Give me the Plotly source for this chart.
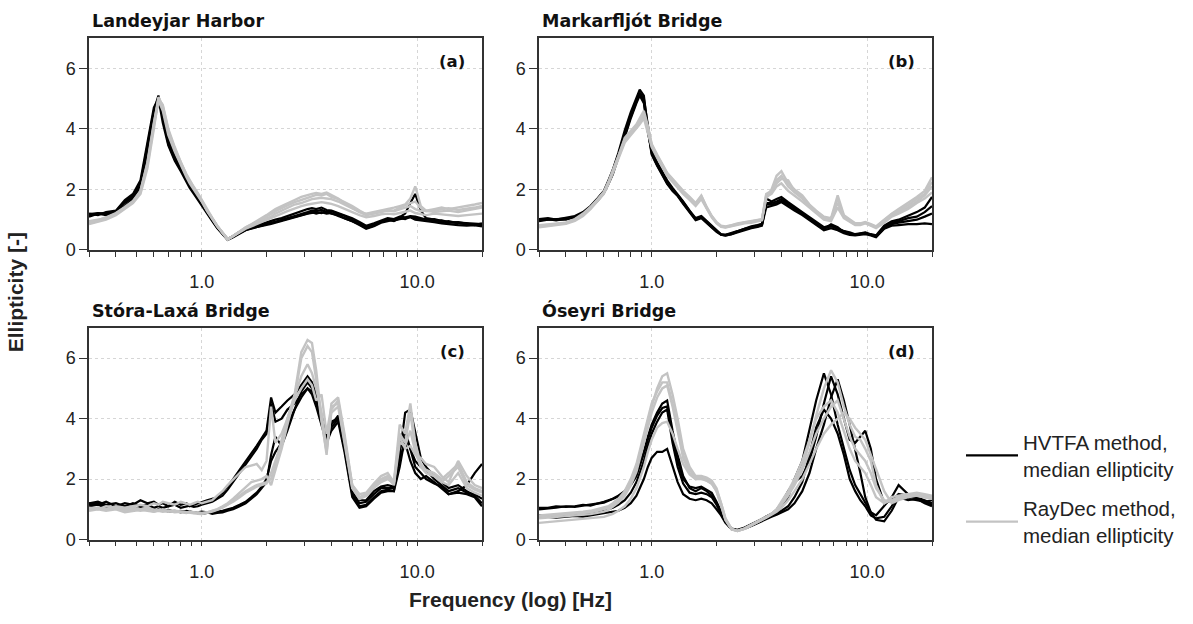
import plotly.graph_objects as go
import math

# Frequency grid [Hz]
freq = [0.30, 0.33, 0.36, 0.40, 0.44, 0.48, 0.52, 0.56, 0.60, 0.63,
        0.66, 0.70, 0.75, 0.80, 0.85, 0.88, 0.92, 0.96, 1.00, 1.06,
        1.12, 1.18, 1.25, 1.32, 1.40, 1.50, 1.60, 1.70, 1.80, 1.90,
        2.00, 2.10, 2.20, 2.35, 2.50, 2.70, 2.90, 3.10, 3.25, 3.40,
        3.60, 3.80, 4.00, 4.30, 4.60, 5.00, 5.40, 5.80, 6.30, 6.80,
        7.30, 7.80, 8.30, 8.80, 9.30, 9.80, 10.4, 11.0, 12.0, 13.0,
        14.0, 15.5, 17.0, 18.5, 20.0]

# (a) Landeyjar Harbor
a_hvtfa = [
    [1.15, 1.20, 1.20, 1.25, 1.55, 1.75, 2.10, 3.20, 4.40, 5.05,
     4.40, 3.60, 3.05, 2.70, 2.35, 2.15, 1.95, 1.75, 1.55, 1.25,
     1.00, 0.75, 0.55, 0.35, 0.45, 0.58, 0.68, 0.73, 0.78, 0.82,
     0.86, 0.90, 0.93, 0.98, 1.05, 1.12, 1.20, 1.25, 1.30, 1.28,
     1.32, 1.25, 1.28, 1.20, 1.12, 1.00, 0.88, 0.75, 0.85, 0.95,
     1.00, 0.95, 1.05, 1.02, 1.10, 1.05, 1.00, 1.02, 0.95, 0.98,
     0.92, 0.90, 0.88, 0.85, 0.85],
    [1.20, 1.15, 1.25, 1.30, 1.65, 1.85, 2.30, 3.50, 4.70, 5.00,
     4.20, 3.45, 2.95, 2.60, 2.25, 2.05, 1.85, 1.65, 1.45, 1.18,
     0.95, 0.72, 0.52, 0.33, 0.42, 0.55, 0.65, 0.72, 0.75, 0.80,
     0.83, 0.86, 0.90, 0.95, 1.00, 1.08, 1.15, 1.20, 1.22, 1.25,
     1.22, 1.28, 1.20, 1.15, 1.05, 0.95, 0.82, 0.70, 0.78, 0.90,
     0.95, 1.00, 1.08, 1.20, 1.55, 1.85, 1.30, 1.05, 1.00, 0.92,
     0.95, 0.88, 0.85, 0.82, 0.80],
    [1.10, 1.20, 1.15, 1.22, 1.45, 1.70, 2.00, 3.00, 4.20, 4.90,
     4.50, 3.70, 3.10, 2.75, 2.40, 2.20, 2.00, 1.78, 1.58, 1.28,
     1.02, 0.78, 0.56, 0.36, 0.46, 0.60, 0.70, 0.76, 0.80, 0.85,
     0.90, 0.95, 1.00, 1.05, 1.12, 1.20, 1.28, 1.35, 1.38, 1.35,
     1.40, 1.32, 1.30, 1.22, 1.15, 1.05, 0.92, 0.80, 0.88, 0.98,
     1.05, 1.02, 1.10, 1.08, 1.12, 1.10, 1.05, 1.00, 1.02, 0.95,
     0.90, 0.92, 0.88, 0.82, 0.88],
    [1.18, 1.22, 1.20, 1.28, 1.60, 1.80, 2.20, 3.40, 4.60, 5.10,
     4.35, 3.50, 3.00, 2.65, 2.30, 2.10, 1.90, 1.70, 1.50, 1.22,
     0.98, 0.74, 0.54, 0.34, 0.44, 0.56, 0.66, 0.70, 0.76, 0.80,
     0.85, 0.88, 0.92, 0.96, 1.02, 1.10, 1.16, 1.22, 1.25, 1.20,
     1.25, 1.20, 1.22, 1.12, 1.05, 0.95, 0.85, 0.72, 0.80, 0.92,
     1.00, 0.98, 1.02, 1.05, 1.08, 1.00, 0.98, 0.96, 0.92, 0.88,
     0.85, 0.82, 0.80, 0.82, 0.78],
]
a_raydec = [
    [0.90, 0.95, 1.05, 1.20, 1.40, 1.60, 1.90, 2.80, 4.10, 4.90,
     4.70, 3.90, 3.30, 2.85, 2.45, 2.25, 2.05, 1.85, 1.62, 1.30,
     1.05, 0.80, 0.58, 0.36, 0.46, 0.60, 0.72, 0.80, 0.88, 0.95,
     1.02, 1.10, 1.20, 1.30, 1.40, 1.50, 1.55, 1.62, 1.68, 1.70,
     1.72, 1.70, 1.68, 1.60, 1.50, 1.38, 1.25, 1.15, 1.20, 1.25,
     1.30, 1.28, 1.35, 1.40, 1.45, 1.35, 1.28, 1.30, 1.25, 1.28,
     1.30, 1.25, 1.30, 1.35, 1.40],
    [0.85, 0.92, 1.00, 1.15, 1.35, 1.55, 1.85, 2.70, 4.00, 5.00,
     4.80, 4.00, 3.40, 2.90, 2.50, 2.30, 2.08, 1.88, 1.65, 1.32,
     1.06, 0.80, 0.58, 0.35, 0.46, 0.62, 0.75, 0.85, 0.95, 1.05,
     1.15, 1.25, 1.35, 1.45, 1.55, 1.65, 1.75, 1.82, 1.85, 1.88,
     1.85, 1.90, 1.82, 1.70, 1.55, 1.40, 1.25, 1.20, 1.25, 1.30,
     1.35, 1.40, 1.45, 1.50, 1.70, 2.10, 1.45, 1.30, 1.35, 1.40,
     1.35, 1.40, 1.45, 1.50, 1.55],
    [0.95, 1.00, 1.05, 1.18, 1.38, 1.58, 1.95, 2.90, 4.20, 4.95,
     4.60, 3.80, 3.25, 2.80, 2.40, 2.20, 2.00, 1.80, 1.60, 1.28,
     1.02, 0.78, 0.56, 0.34, 0.45, 0.58, 0.70, 0.78, 0.85, 0.92,
     0.98, 1.05, 1.12, 1.20, 1.28, 1.38, 1.45, 1.50, 1.52, 1.55,
     1.58, 1.55, 1.52, 1.45, 1.35, 1.25, 1.15, 1.08, 1.12, 1.18,
     1.20, 1.18, 1.22, 1.25, 1.30, 1.22, 1.18, 1.15, 1.20, 1.18,
     1.15, 1.12, 1.15, 1.18, 1.20],
    [0.92, 0.98, 1.08, 1.22, 1.42, 1.62, 1.95, 2.85, 4.15, 5.05,
     4.75, 3.95, 3.35, 2.88, 2.48, 2.28, 2.06, 1.86, 1.64, 1.30,
     1.04, 0.79, 0.57, 0.35, 0.46, 0.61, 0.74, 0.84, 0.92, 1.00,
     1.10, 1.20, 1.28, 1.38, 1.48, 1.58, 1.65, 1.72, 1.78, 1.82,
     1.80, 1.85, 1.75, 1.68, 1.58, 1.45, 1.30, 1.18, 1.22, 1.28,
     1.32, 1.30, 1.40, 1.48, 1.55, 1.60, 1.38, 1.28, 1.30, 1.35,
     1.38, 1.32, 1.35, 1.40, 1.45],
]

# (b) Markarfljót Bridge
b_hvtfa = [
    [1.00, 1.02, 0.98, 1.02, 1.08, 1.20, 1.40, 1.65, 1.90, 2.20,
     2.55, 3.10, 3.80, 4.40, 4.90, 5.20, 5.00, 4.10, 3.30, 2.90,
     2.60, 2.30, 2.05, 1.85, 1.60, 1.30, 1.05, 1.12, 0.95, 0.80,
     0.65, 0.52, 0.50, 0.55, 0.62, 0.70, 0.76, 0.80, 0.85, 1.50,
     1.50, 1.55, 1.62, 1.50, 1.38, 1.22, 1.05, 0.90, 0.72, 0.78,
     0.70, 0.60, 0.55, 0.50, 0.52, 0.55, 0.50, 0.45, 0.75, 0.90,
     0.95, 1.05, 1.10, 1.25, 1.45],
    [0.95, 1.00, 1.00, 1.05, 1.12, 1.25, 1.45, 1.70, 1.95, 2.30,
     2.65, 3.20, 3.95, 4.55, 5.05, 5.30, 5.10, 4.00, 3.20, 2.80,
     2.50, 2.20, 1.98, 1.80, 1.55, 1.25, 1.00, 1.08, 0.90, 0.75,
     0.62, 0.50, 0.48, 0.52, 0.60, 0.68, 0.74, 0.78, 0.82, 1.40,
     1.45, 1.50, 1.58, 1.45, 1.30, 1.15, 0.98, 0.82, 0.65, 0.72,
     0.65, 0.55, 0.50, 0.48, 0.50, 0.52, 0.48, 0.42, 0.70, 0.80,
     0.82, 0.85, 0.85, 0.88, 0.85],
    [1.02, 1.05, 1.00, 1.00, 1.10, 1.22, 1.42, 1.68, 1.92, 2.25,
     2.60, 3.15, 3.85, 4.45, 4.95, 5.15, 4.90, 3.90, 3.25, 2.85,
     2.55, 2.25, 2.00, 1.82, 1.58, 1.28, 1.02, 1.10, 0.92, 0.78,
     0.63, 0.51, 0.50, 0.54, 0.62, 0.70, 0.78, 0.82, 0.86, 1.70,
     1.60, 1.68, 1.75, 1.58, 1.42, 1.25, 1.08, 0.92, 0.75, 0.82,
     0.72, 0.62, 0.58, 0.52, 0.55, 0.58, 0.52, 0.48, 0.80, 0.95,
     1.00, 1.12, 1.25, 1.40, 1.75],
    [0.98, 1.00, 1.02, 1.04, 1.06, 1.18, 1.38, 1.62, 1.88, 2.18,
     2.50, 3.05, 3.75, 4.35, 4.85, 5.10, 4.85, 3.95, 3.15, 2.78,
     2.48, 2.18, 1.95, 1.78, 1.52, 1.22, 0.98, 1.05, 0.88, 0.74,
     0.60, 0.50, 0.47, 0.52, 0.58, 0.66, 0.72, 0.76, 0.80, 1.55,
     1.55, 1.60, 1.68, 1.55, 1.35, 1.18, 1.00, 0.85, 0.68, 0.85,
     0.75, 0.58, 0.52, 0.50, 0.54, 0.56, 0.50, 0.44, 0.72, 0.85,
     0.90, 0.95, 1.00, 1.10, 1.20],
]
b_raydec = [
    [0.78, 0.80, 0.85, 0.88, 0.98, 1.15, 1.38, 1.62, 1.88, 2.20,
     2.55, 3.05, 3.60, 3.85, 4.05, 4.25, 4.45, 4.00, 3.45, 3.10,
     2.80, 2.50, 2.30, 2.10, 1.90, 1.70, 1.50, 1.75, 1.38, 1.10,
     0.90, 0.78, 0.75, 0.80, 0.85, 0.90, 0.92, 0.96, 1.00, 1.80,
     1.90, 2.30, 2.45, 2.10, 1.90, 1.70, 1.45, 1.25, 1.05, 1.00,
     1.70, 1.10, 0.95, 0.85, 0.85, 0.90, 0.82, 0.75, 0.95, 1.15,
     1.25, 1.40, 1.60, 1.80, 2.10],
    [0.80, 0.82, 0.85, 0.90, 1.00, 1.18, 1.40, 1.65, 1.92, 2.25,
     2.60, 3.10, 3.70, 3.95, 4.15, 4.35, 4.60, 4.10, 3.50, 3.15,
     2.85, 2.55, 2.35, 2.15, 1.95, 1.75, 1.55, 1.80, 1.42, 1.12,
     0.92, 0.80, 0.78, 0.82, 0.88, 0.92, 0.95, 0.98, 1.02, 1.70,
     2.00, 2.45, 2.60, 2.20, 2.00, 1.80, 1.50, 1.30, 1.10, 1.05,
     1.80, 1.15, 1.00, 0.88, 0.88, 0.92, 0.85, 0.78, 1.00, 1.20,
     1.35, 1.55, 1.75, 1.95, 2.40],
    [0.75, 0.78, 0.82, 0.86, 0.96, 1.12, 1.35, 1.60, 1.85, 2.18,
     2.52, 3.00, 3.55, 3.80, 4.00, 4.15, 4.35, 3.90, 3.40, 3.05,
     2.75, 2.45, 2.25, 2.05, 1.85, 1.65, 1.45, 1.68, 1.35, 1.08,
     0.88, 0.76, 0.74, 0.78, 0.84, 0.88, 0.90, 0.94, 0.98, 1.75,
     1.85, 2.10, 2.20, 1.95, 1.80, 1.60, 1.40, 1.20, 1.00, 0.95,
     1.40, 1.05, 0.92, 0.82, 0.82, 0.88, 0.80, 0.72, 0.90, 1.10,
     1.20, 1.35, 1.55, 1.70, 1.90],
    [0.82, 0.84, 0.88, 0.90, 1.02, 1.20, 1.42, 1.66, 1.90, 2.22,
     2.58, 3.08, 3.65, 3.90, 4.10, 4.30, 4.50, 4.05, 3.48, 3.12,
     2.82, 2.52, 2.32, 2.12, 1.92, 1.72, 1.52, 1.78, 1.40, 1.12,
     0.90, 0.78, 0.76, 0.81, 0.86, 0.91, 0.94, 0.97, 1.01, 1.85,
     1.95, 2.20, 2.35, 2.30, 1.95, 1.75, 1.48, 1.28, 1.08, 1.02,
     1.55, 1.12, 0.98, 0.86, 0.86, 0.90, 0.84, 0.76, 0.98, 1.18,
     1.30, 1.48, 1.68, 1.85, 2.25],
]

# (c) Stóra-Laxá Bridge
c_hvtfa = [
    [1.20, 1.15, 1.25, 1.10, 1.20, 1.15, 1.30, 1.20, 1.25, 1.15,
     1.20, 1.10, 1.25, 1.15, 1.20, 1.10, 1.15, 1.20, 1.25, 1.30,
     1.35, 1.40, 1.55, 1.75, 2.00, 2.30, 2.60, 2.85, 3.10, 3.35,
     3.60, 4.70, 4.20, 4.40, 4.60, 4.80, 5.10, 5.40, 5.20, 4.80,
     4.10, 3.40, 3.80, 4.10, 3.20, 1.60, 1.20, 1.25, 1.50, 1.70,
     1.70, 1.70, 3.00, 3.60, 3.00, 2.60, 2.40, 2.30, 2.00, 1.80,
     1.60, 1.70, 1.55, 1.50, 1.35],
    [1.15, 1.20, 1.10, 1.05, 1.00, 0.95, 1.05, 1.00, 0.95, 1.00,
     0.95, 0.98, 0.92, 0.95, 0.90, 0.92, 0.88, 0.90, 0.92, 0.90,
     0.85, 0.88, 0.90, 0.95, 1.00, 1.10, 1.20, 1.35, 1.50, 1.70,
     1.90, 2.80, 3.40, 3.10, 3.60, 4.30, 4.90, 5.20, 5.00, 4.60,
     3.90, 3.30, 3.70, 4.00, 3.00, 1.50, 1.10, 1.15, 1.40, 1.60,
     1.65, 1.60, 2.80, 4.20, 4.30, 3.50, 2.70, 2.40, 2.10, 1.90,
     1.70, 1.80, 1.60, 1.45, 1.20],
    [1.20, 1.25, 1.15, 1.20, 1.10, 1.20, 1.10, 1.15, 1.05, 1.10,
     1.05, 1.10, 1.15, 1.05, 1.10, 1.12, 1.08, 1.10, 1.15, 1.20,
     1.25, 1.35, 1.45, 1.65, 1.90, 2.20, 2.50, 2.75, 3.00, 3.30,
     3.50, 4.50, 3.90, 4.00, 4.30, 4.50, 4.80, 5.00, 4.90, 4.50,
     4.00, 3.50, 3.90, 4.00, 3.10, 1.70, 1.30, 1.30, 1.60, 1.75,
     1.80, 1.75, 2.70, 3.20, 2.60, 2.20, 2.00, 2.10, 1.90, 1.70,
     1.50, 1.60, 1.80, 2.20, 2.50],
    [1.10, 1.15, 1.05, 1.10, 1.00, 1.05, 1.00, 0.98, 1.00, 0.95,
     1.00, 0.92, 0.95, 0.90, 0.95, 0.92, 0.90, 0.88, 0.85, 0.88,
     0.90, 0.92, 0.95, 1.00, 1.05, 1.15, 1.25, 1.40, 1.55, 1.75,
     2.00, 2.60, 2.90, 3.20, 3.80, 4.30, 4.70, 5.00, 4.80, 4.40,
     3.80, 3.20, 3.60, 3.90, 2.90, 1.40, 1.05, 1.10, 1.35, 1.55,
     1.60, 1.60, 2.40, 3.40, 3.00, 2.40, 2.20, 2.00, 1.85, 1.75,
     1.50, 1.55, 1.50, 1.40, 1.10],
]
c_raydec = [
    [1.00, 1.05, 1.00, 1.05, 0.95, 1.00, 0.95, 1.00, 0.92, 0.95,
     0.92, 0.95, 0.90, 0.92, 0.90, 0.88, 0.86, 0.85, 0.84, 0.88,
     0.92, 0.98, 1.05, 1.15, 1.30, 1.45, 1.60, 1.70, 1.80, 1.85,
     1.90, 2.00, 2.50, 3.30, 4.00, 4.80, 6.20, 6.60, 6.50, 5.60,
     4.00, 2.80, 4.50, 4.70, 3.50, 1.80, 1.40, 1.50, 1.80, 2.00,
     2.10, 1.90, 3.80, 3.50, 4.50, 3.20, 2.50, 2.30, 2.20, 2.00,
     2.20, 2.50, 1.90, 1.70, 1.60],
    [1.05, 1.00, 1.10, 1.05, 1.00, 1.05, 1.00, 1.05, 1.00, 0.95,
     1.00, 0.95, 0.95, 0.92, 0.90, 0.92, 0.88, 0.90, 0.88, 0.90,
     0.95, 1.00, 1.10, 1.20, 1.35, 1.55, 1.75, 1.90, 1.95, 2.00,
     2.10, 1.80, 2.30, 3.00, 3.80, 4.70, 6.00, 6.40, 6.20, 5.30,
     3.90, 2.90, 4.30, 4.60, 3.40, 1.70, 1.35, 1.45, 1.70, 1.90,
     2.00, 1.85, 3.50, 3.20, 4.20, 3.00, 2.40, 2.20, 2.10, 1.90,
     2.10, 2.40, 1.80, 1.65, 1.55],
    [1.00, 1.05, 1.00, 1.10, 1.05, 1.10, 1.15, 1.10, 1.20, 1.15,
     1.25, 1.20, 1.15, 1.25, 1.20, 1.15, 1.20, 1.25, 1.20, 1.25,
     1.30, 1.45, 1.60, 1.80, 2.00, 2.20, 2.40, 2.45, 2.50, 2.30,
     2.60, 4.40, 3.20, 3.50, 4.00, 4.60, 5.00, 5.30, 5.10, 4.60,
     4.80, 3.50, 4.40, 4.50, 3.30, 1.80, 1.50, 1.55, 1.85, 2.10,
     2.20, 1.90, 3.40, 3.00, 3.10, 2.80, 2.70, 2.50, 2.40, 2.10,
     1.90, 2.60, 2.10, 1.80, 1.70],
    [0.95, 1.00, 0.95, 1.00, 0.90, 0.95, 0.98, 0.95, 0.92, 0.98,
     0.95, 0.92, 0.95, 0.90, 0.88, 0.92, 0.90, 0.88, 0.86, 0.90,
     0.95, 1.00, 1.08, 1.15, 1.25, 1.40, 1.55, 1.65, 1.75, 1.80,
     1.85, 2.20, 2.60, 3.20, 4.00, 4.70, 5.40, 5.80, 5.50, 5.00,
     4.20, 3.00, 4.20, 4.40, 3.20, 1.70, 1.35, 1.45, 1.75, 1.95,
     2.05, 1.80, 3.20, 3.10, 3.60, 2.90, 2.40, 2.30, 2.10, 1.90,
     1.80, 2.20, 1.70, 1.55, 1.45],
]

# (d) Óseyri Bridge
d_hvtfa = [
    [1.05, 1.05, 1.10, 1.08, 1.10, 1.15, 1.12, 1.20, 1.25, 1.30,
     1.35, 1.45, 1.60, 1.85, 2.20, 2.50, 2.90, 3.40, 3.80, 4.20,
     4.50, 4.60, 3.60, 2.80, 2.10, 1.70, 1.60, 1.70, 1.60, 1.45,
     1.20, 0.90, 0.60, 0.35, 0.30, 0.38, 0.48, 0.58, 0.65, 0.72,
     0.80, 0.90, 1.05, 1.40, 2.00, 2.60, 3.60, 4.60, 5.50, 4.80,
     3.80, 3.00, 2.30, 1.80, 1.50, 1.20, 0.90, 0.80, 1.10, 1.40,
     1.80, 1.50, 1.40, 1.30, 1.20],
    [0.75, 0.75, 0.72, 0.75, 0.78, 0.76, 0.80, 0.82, 0.85, 0.88,
     0.90, 0.95, 1.05, 1.20, 1.45, 1.70, 2.00, 2.40, 2.70, 2.90,
     2.90, 3.00, 2.40, 1.90, 1.50, 1.35, 1.30, 1.35, 1.30, 1.20,
     1.00, 0.80, 0.55, 0.34, 0.30, 0.36, 0.45, 0.55, 0.62, 0.68,
     0.75, 0.82, 0.90, 1.00, 1.20, 1.60, 2.20, 3.00, 3.80, 4.70,
     5.30, 4.60, 3.80, 3.00, 2.20, 1.40, 0.90, 0.65, 0.60, 0.95,
     1.40, 1.30, 1.35, 1.20, 1.10],
    [1.00, 1.02, 1.05, 1.10, 1.08, 1.12, 1.15, 1.20, 1.22, 1.28,
     1.35, 1.42, 1.58, 1.80, 2.10, 2.40, 2.85, 3.30, 3.70, 4.10,
     4.35, 4.40, 3.40, 2.60, 2.00, 1.75, 1.70, 1.75, 1.65, 1.55,
     1.25, 0.95, 0.62, 0.36, 0.32, 0.40, 0.50, 0.60, 0.68, 0.76,
     0.85, 0.98, 1.20, 1.60, 1.90, 2.10, 2.60, 3.40, 4.50, 5.40,
     4.80, 4.00, 3.30, 3.20, 3.40, 3.60, 3.00, 2.00, 1.20, 1.30,
     1.50, 1.45, 1.35, 1.25, 1.15],
    [0.80, 0.78, 0.80, 0.82, 0.85, 0.86, 0.88, 0.90, 0.95, 1.00,
     1.05, 1.15, 1.30, 1.55, 1.90, 2.20, 2.60, 3.10, 3.50, 3.90,
     4.20, 4.30, 3.20, 2.40, 1.85, 1.55, 1.50, 1.55, 1.50, 1.40,
     1.15, 0.85, 0.58, 0.35, 0.30, 0.37, 0.46, 0.56, 0.63, 0.70,
     0.78, 0.85, 0.95, 1.10, 1.40, 1.90, 2.80, 3.70, 4.30, 4.00,
     3.50, 2.80, 2.00, 1.60, 1.30, 1.10, 0.80, 0.70, 0.75, 1.10,
     1.50, 1.35, 1.30, 1.25, 1.30],
]
d_raydec = [
    [0.75, 0.78, 0.80, 0.82, 0.85, 0.88, 0.90, 0.95, 1.00, 1.05,
     1.15, 1.30, 1.55, 1.90, 2.40, 2.80, 3.30, 3.90, 4.40, 5.00,
     5.40, 5.50, 4.80, 4.00, 3.00, 2.40, 2.10, 2.10, 2.05, 1.95,
     1.70, 1.20, 0.70, 0.35, 0.28, 0.36, 0.48, 0.58, 0.66, 0.74,
     0.85, 1.00, 1.20, 1.50, 1.90, 2.40, 3.20, 4.10, 5.00, 5.60,
     5.20, 4.40, 3.80, 3.40, 3.30, 3.00, 2.60, 1.80, 1.20, 1.40,
     1.45, 1.50, 1.55, 1.50, 1.45],
    [0.55, 0.58, 0.60, 0.62, 0.65, 0.68, 0.70, 0.72, 0.75, 0.80,
     0.85, 0.95, 1.10, 1.35, 1.70, 2.00, 2.40, 2.90, 3.30, 3.70,
     3.85, 3.90, 3.50, 3.00, 2.50, 2.15, 2.00, 2.05, 1.95, 1.85,
     1.60, 1.15, 0.65, 0.33, 0.28, 0.35, 0.46, 0.56, 0.64, 0.72,
     0.82, 0.92, 1.05, 1.30, 1.60, 2.00, 2.50, 3.00, 3.50, 3.80,
     4.00, 4.20, 4.00, 3.70, 3.50, 3.30, 2.80, 2.30, 1.60, 1.20,
     1.30, 1.40, 1.45, 1.40, 1.35],
    [0.80, 0.82, 0.85, 0.88, 0.90, 0.92, 0.95, 1.00, 1.05, 1.10,
     1.20, 1.35, 1.60, 2.00, 2.50, 2.95, 3.45, 4.00, 4.50, 4.90,
     5.20, 5.20, 4.50, 3.70, 2.80, 2.30, 2.05, 2.05, 2.00, 1.90,
     1.65, 1.20, 0.68, 0.34, 0.29, 0.37, 0.48, 0.58, 0.66, 0.74,
     0.85, 1.00, 1.25, 1.60, 2.00, 2.60, 3.30, 4.00, 4.40, 4.60,
     4.20, 3.60, 3.00, 2.60, 2.40, 2.20, 1.80, 1.40, 1.20, 1.30,
     1.40, 1.50, 1.45, 1.40, 1.35],
    [0.70, 0.72, 0.75, 0.76, 0.78, 0.80, 0.84, 0.88, 0.92, 0.98,
     1.08, 1.22, 1.45, 1.80, 2.25, 2.65, 3.15, 3.70, 4.20, 4.70,
     5.00, 5.10, 4.40, 3.60, 2.70, 2.20, 2.00, 2.00, 1.95, 1.85,
     1.60, 1.15, 0.66, 0.34, 0.28, 0.36, 0.47, 0.57, 0.65, 0.73,
     0.84, 0.98, 1.15, 1.45, 1.80, 2.30, 2.90, 3.50, 4.00, 4.40,
     4.60, 4.00, 3.40, 3.00, 2.80, 2.60, 2.20, 1.70, 1.30, 1.25,
     1.35, 1.45, 1.50, 1.45, 1.40],
]

panel_titles = ["Landeyjar Harbor", "Markarfljót Bridge", "Stóra-Laxá Bridge", "Óseyri Bridge"]
panel_labels = ["(a)", "(b)", "(c)", "(d)"]
hvtfa_sets = [a_hvtfa, b_hvtfa, c_hvtfa, d_hvtfa]
raydec_sets = [a_raydec, b_raydec, c_raydec, d_raydec]
x_ticks_major = [1, 10]
x_ticktext = ["1.0", "10.0"]
x_ticks_minor = [0.3, 0.4, 0.5, 0.6, 0.7, 0.8, 0.9, 2, 3, 4, 5, 6, 7, 8, 9, 20]
y_ticks = [0, 2, 4, 6]
legend_names = ["HVTFA method,<br>median ellipticity", "RayDec method,<br>median ellipticity"]

W, H = 1193, 624
BLACK = "#000000"
GRAY = "#c3c3c3"
FONT = "Liberation Sans, Arial, sans-serif"
TITLE_FONT = "DejaVu Sans, Liberation Sans, Arial, sans-serif"

# pixel boxes of the four plot areas: (left, right, top, bottom)
boxes = [(89, 482, 38.7, 254), (539, 932, 38.7, 254),
         (89, 482, 333.3, 548.3), (539, 932, 333.3, 548.3)]

fig = go.Figure()
layout = dict(
    width=W, height=H,
    margin=dict(l=0, r=0, t=0, b=0),
    paper_bgcolor="white", plot_bgcolor="white",
    font=dict(family=FONT, size=18, color="#222"),
    showlegend=True,
    legend=dict(x=961 / W, y=1 - 429 / H, xanchor="left", yanchor="top",
                font=dict(family=FONT, size=20.5, color="#222"),
                itemwidth=52, tracegroupgap=10, bgcolor="rgba(0,0,0,0)"),
)
annotations = []

for i in range(4):
    sfx = "" if i == 0 else str(i + 1)
    xa, ya = "x" + sfx, "y" + sfx
    for k, curve in enumerate(hvtfa_sets[i]):
        fig.add_trace(go.Scatter(x=freq, y=curve, mode="lines", xaxis=xa, yaxis=ya,
                                 line=dict(color=BLACK, width=2.2),
                                 name=legend_names[0], legendgroup="hv",
                                 showlegend=(i == 0 and k == 0)))
    for k, curve in enumerate(raydec_sets[i]):
        fig.add_trace(go.Scatter(x=freq, y=curve, mode="lines", xaxis=xa, yaxis=ya,
                                 line=dict(color=GRAY, width=2.4),
                                 name=legend_names[1], legendgroup="rd",
                                 showlegend=(i == 0 and k == 0)))
    l, r, t, b = boxes[i]
    layout["xaxis" + sfx] = dict(
        type="log", range=[math.log10(0.3), math.log10(20)],
        domain=[l / W, r / W], anchor=ya,
        tickmode="array", tickvals=x_ticks_major, ticktext=x_ticktext,
        ticks="outside", ticklen=5, tickwidth=1, tickcolor="#333",
        ticklabelstandoff=10,
        showline=True, linecolor="#333", linewidth=1.5, mirror=True,
        showgrid=True, gridcolor="#d6d6d6", griddash="dot", gridwidth=1,
        zeroline=False,
        minor=dict(tickmode="array", tickvals=x_ticks_minor, ticks="outside",
                   ticklen=5, tickwidth=1, tickcolor="#333", showgrid=False),
        tickfont=dict(family=FONT, size=18, color="#222"),
    )
    layout["yaxis" + sfx] = dict(
        range=[0, 7], domain=[1 - b / H, 1 - t / H], anchor=xa,
        tickmode="array", tickvals=y_ticks,
        ticks="outside", ticklen=8, tickwidth=1, tickcolor="#333",
        showline=True, linecolor="#333", linewidth=1.5, mirror=True,
        showgrid=True, gridcolor="#d6d6d6", griddash="dot", gridwidth=1,
        zeroline=False,
        tickfont=dict(family=FONT, size=18, color="#222"),
    )
    annotations.append(dict(text="<b>" + panel_titles[i] + "</b>", xref="paper", yref="paper",
                            x=(l + 1) / W, y=1 - (t - 17.5) / H, xanchor="left", yanchor="middle",
                            showarrow=False, font=dict(family=TITLE_FONT, size=17.5, color="#111")))
    annotations.append(dict(text="<b>" + panel_labels[i] + "</b>", xref="paper", yref="paper",
                            x=(r - 15) / W, y=1 - (t + 23.5) / H, xanchor="right", yanchor="middle",
                            showarrow=False, font=dict(family=TITLE_FONT, size=16.5, color="#111")))

annotations.append(dict(text="<b>Ellipticity [-]</b>", xref="paper", yref="paper",
                        x=15 / W, y=1 - 297 / H, textangle=-90, xanchor="center", yanchor="middle",
                        showarrow=False, font=dict(family=FONT, size=21, color="#222")))
annotations.append(dict(text="<b>Frequency (log) [Hz]</b>", xref="paper", yref="paper",
                        x=510 / W, y=1 - 609 / H, xanchor="center", yanchor="middle",
                        showarrow=False, font=dict(family=FONT, size=21, color="#222")))
layout["annotations"] = annotations
fig.update_layout(**layout)
fig.write_html("out.html")
